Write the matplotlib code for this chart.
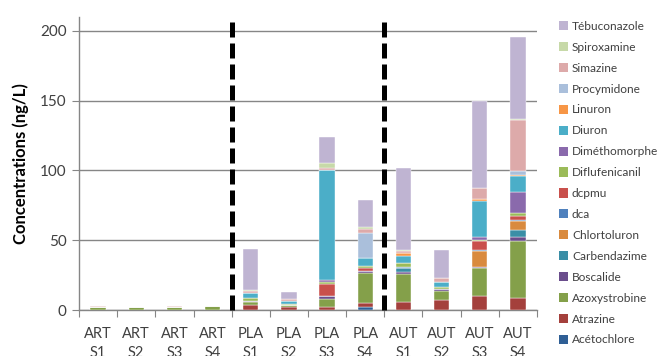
import numpy as np
import matplotlib
matplotlib.use("Agg")
import matplotlib.pyplot as plt
from matplotlib.patches import Patch

plt.rcParams['font.family'] = ['Lato', 'DejaVu Sans']

sites = ["ART\nS1", "ART\nS2", "ART\nS3", "ART\nS4",
         "PLA\nS1", "PLA\nS2", "PLA\nS3", "PLA\nS4",
         "AUT\nS1", "AUT\nS2", "AUT\nS3", "AUT\nS4"]

# ordre d'empilement, du bas vers le haut
molecules = ["Acétochlore", "Atrazine", "Azoxystrobine", "Boscalide", "Carbendazime",
             "Chlortoluron", "dca", "dcpmu", "Diflufenicanil", "Diméthomorphe",
             "Diuron", "Linuron", "Procymidone", "Simazine", "Spiroxamine",
             "Tébuconazole"]

couleurs = ["#2f5f95", "#a4403c", "#84a04a", "#6a4d8c", "#3a8ea6",
            "#d98a3e", "#4f81bd", "#c9504c", "#9bbb59", "#8a6aac",
            "#4baec8", "#f79646", "#aabfdb", "#ddaaaa", "#c7d9a8",
            "#bfb4d2"]

# concentrations en ng/L (une liste par molécule, 12 sites)
acetochlore    = [0, 0, 0, 0, 0, 0, 0, 2.1, 0, 0, 0, 0]
atrazine       = [0, 0, 0, 0, 3.6, 2.4, 2.1, 2.7, 5.5, 7.1, 10.0, 8.3]
azoxystrobine  = [2.4, 2.3, 2.0, 2.6, 1.9, 1.2, 6.0, 21.9, 20.5, 6.5, 19.8, 41.5]
boscalide      = [0, 0, 0, 0, 0.9, 0, 1.7, 1.2, 1.4, 1.4, 0.9, 2.3]
carbendazime   = [0, 0, 0, 0, 0, 0, 0, 0, 2.8, 0, 0, 5.5]
chlortoluron   = [0, 0, 0, 0, 0, 0, 0, 0, 0, 0, 11.4, 6.4]
dca            = [0, 0, 0, 0, 0, 0, 0, 0, 0.6, 0, 0.8, 0.5]
dcpmu          = [0, 0, 0, 0, 0, 0, 9.0, 2.3, 0, 0, 6.4, 3.1]
diflufenicanil = [0, 0, 0, 0, 2.2, 0.6, 1.0, 1.0, 3.0, 1.4, 0.9, 1.7]
dimethomorphe  = [0, 0, 0, 0, 0, 0, 1.4, 0, 0, 0, 1.9, 15.0]
diuron         = [0, 0, 0, 0, 3.3, 2.0, 79.0, 6.4, 4.8, 3.8, 26.2, 11.4]
linuron        = [0, 0, 0, 0, 0, 0, 0, 0, 1.9, 0, 1.2, 0.7]
procymidone    = [0, 0, 0, 0, 0, 0, 0, 17.6, 0, 0, 0, 3.4]
simazine       = [0.6, 0, 0.6, 0, 1.7, 1.9, 1.7, 3.1, 1.6, 2.8, 7.6, 36.4]
spiroxamine    = [0, 0, 0, 0.3, 0.7, 0, 3.6, 1.5, 0.8, 0, 0, 0.7]
tebuconazole   = [0, 0, 0, 0, 29.7, 5.0, 18.5, 19.2, 59.1, 20.1, 62.7, 58.6]

valeurs = [acetochlore, atrazine, azoxystrobine, boscalide, carbendazime,
           chlortoluron, dca, dcpmu, diflufenicanil, dimethomorphe,
           diuron, linuron, procymidone, simazine, spiroxamine, tebuconazole]

fig = plt.figure(figsize=(6.61, 3.56), dpi=100)
ax = fig.add_axes([79 / 661, 1 - 310 / 356, 458 / 661, 293 / 356])

x = np.arange(len(sites))
bas = np.zeros(len(sites))
for nom, val, c in zip(molecules, valeurs, couleurs):
    val = np.array(val)
    ax.bar(x, val, 0.4, bottom=bas, color=c, edgecolor="white", linewidth=0.3, zorder=3)
    bas += val

# séparations entre les trois zones
for xs in [3.5, 7.5]:
    ax.plot([xs, xs], [0, 210], color="black", lw=3.6, dashes=(3, 1.2), zorder=4,
            clip_on=False, solid_capstyle="butt", dash_capstyle="butt")

gris = "#868686"
ax.set_xlim(-0.5, 11.5)
ax.set_ylim(0, 210)
ax.set_yticks([0, 50, 100, 150, 200])
ax.yaxis.grid(True, color=gris, lw=1)
ax.set_axisbelow(True)
for s in ["top", "right"]:
    ax.spines[s].set_visible(False)
for s in ["left", "bottom"]:
    ax.spines[s].set_color(gris)
    ax.spines[s].set_linewidth(1)

ax.set_xticks(np.arange(-0.5, 12, 1))
ax.set_xticklabels([])
ax.set_xticks(x, minor=True)
ax.set_xticklabels(sites, minor=True, fontsize=10.5, color="#404040", linespacing=1.45,
                   va="top")
ax.tick_params(axis="x", which="major", direction="out", length=5, color=gris)
ax.tick_params(axis="x", which="minor", length=0, pad=12)
ax.tick_params(axis="y", direction="out", length=5, color=gris, labelsize=11,
               labelcolor="#404040", pad=4)

ax.set_ylabel("Concentrations (ng/L)", fontsize=12, fontweight="bold", labelpad=8)

handles = [Patch(facecolor=c, edgecolor="none") for c in couleurs[::-1]]
fig.legend(handles, molecules[::-1], loc="upper left",
           bbox_to_anchor=(554 / 661, 1 - 16 / 356), frameon=False, fontsize=8.6,
           handlelength=0.8, handleheight=0.8, handletextpad=0.3, labelspacing=0.83,
           labelcolor="#404040", borderaxespad=0)

fig.savefig("out.png", dpi=100)
